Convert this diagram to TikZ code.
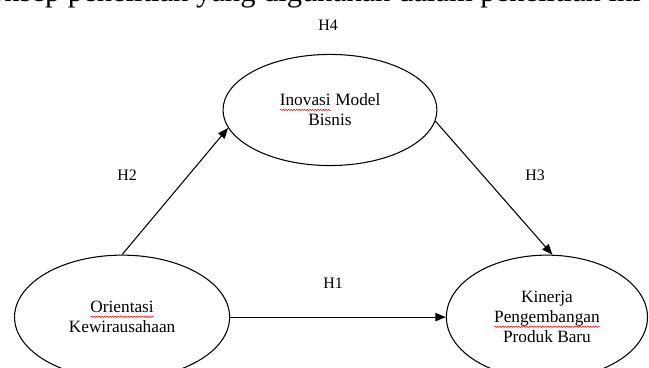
\documentclass[tikz,border=0pt]{standalone}
\usepackage{fontspec}
\setmainfont{Liberation Serif}
\usetikzlibrary{arrows.meta,shapes.geometric,decorations.pathmorphing}
\newcommand{\spellmark}[1]{\tikz[baseline=(w.base)]{\node[shape=rectangle, draw=none, inner sep=0pt, outer sep=0pt, minimum width=0pt, minimum height=0pt] (w) {#1};
		\draw[red, line width=0.4pt, decorate, decoration={snake, amplitude=0.5pt, segment length=2pt}] ([yshift=-3pt]w.base west) -- ([yshift=-3pt]w.base east);}}

\begin{document}
\begin{tikzpicture}[
		var/.style={ellipse, draw, line width=0.8pt, font=\fontsize{13}{15}\selectfont, align=center, inner sep=0pt},
		hyp/.style={font=\fontsize{12}{14}\selectfont},
		link/.style={line width=0.8pt, -{Triangle[length=2.8mm, width=2.2mm]}}]
		%%%%% START %%%%%
		
		\useasboundingbox (0, 0) rectangle (17.17, 9.71);
		
		\begin{scope}
			\clip (0, 0) rectangle (17.17, 9.71);
			\node[anchor=base west, inner sep=0pt, font=\fontsize{23}{27}\selectfont] (caption) at (-0.88, 9.66) {Konsep penelitian yang digunakan dalam penelitian ini};
			
			\node[var, minimum width=5.66cm, minimum height=2.94cm] (inovasi) at (8.73, 6.80) {\spellmark{Inovasi} Model\\Bisnis};
			\node[var, minimum width=5.69cm, minimum height=3.28cm] (orientasi) at (3.23, 1.32) {\spellmark{Orientasi}\\Kewirausahaan};
			\node[var, minimum width=5.32cm, minimum height=3.28cm] (kinerja) at (14.47, 1.32) {Kinerja\\\spellmark{Pengembangan}\\Produk Baru};
		\end{scope}
		
		\node[hyp] (h4) at (8.68, 9.05) {H4};
		\node[hyp] (h2) at (3.36, 5.08) {H2};
		\node[hyp] (h3) at (14.16, 5.08) {H3};
		\node[hyp] (h1) at (8.81, 2.22) {H1};
		
		\draw[link] (orientasi.north) -- (inovasi.190);
		\draw[link] (inovasi.-6) -- (kinerja.85);
		\draw[link] (orientasi.east) -- (kinerja.west);
		
		%%%%% END %%%%%
	\end{tikzpicture}
\end{document}
